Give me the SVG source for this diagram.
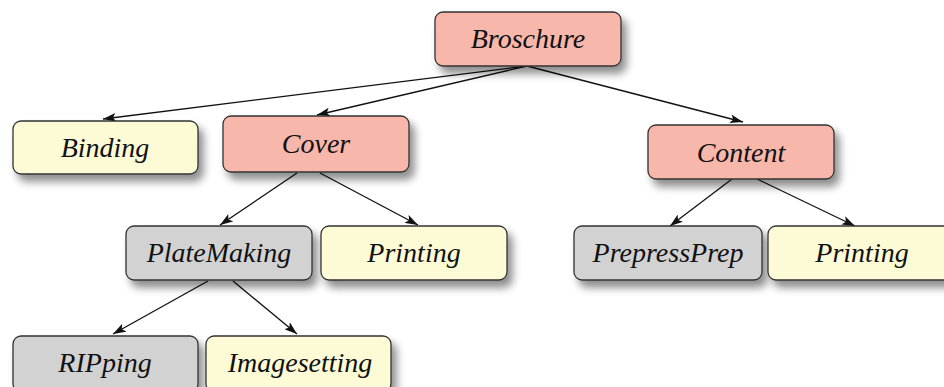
<svg xmlns="http://www.w3.org/2000/svg" width="944" height="387" viewBox="0 0 944 387">
<defs>
<filter id="sh" x="-20%" y="-30%" width="150%" height="180%">
<feGaussianBlur in="SourceAlpha" stdDeviation="4"/>
<feOffset dx="5" dy="7" result="b"/>
<feComponentTransfer><feFuncA type="linear" slope="0.45"/></feComponentTransfer>
<feMerge><feMergeNode/><feMergeNode in="SourceGraphic"/></feMerge>
</filter>
<marker id="ar" viewBox="0 0 13 9" refX="13" refY="4.5" markerWidth="13" markerHeight="9" markerUnits="userSpaceOnUse" orient="auto">
<path d="M0,0 L13,4.5 L0,9 L3,4.5 z" fill="#111"/>
</marker>
</defs>
<style>
.n rect{stroke:#333;stroke-width:1.3}
.pink rect{fill:#f7b7ab}
.yel rect{fill:#fcfbd6}
.gray rect{fill:#d2d2d2}
.e line{stroke:#111;stroke-width:1.3;marker-end:url(#ar)}
.t{font-family:'Liberation Serif','DejaVu Serif',serif;font-style:italic;font-size:28px;fill:#111;text-anchor:middle}
</style>
<rect width="944" height="387" fill="#fff"/>
<g class="e">
<line x1="527" y1="66" x2="103" y2="119"/>
<line x1="527" y1="66" x2="317" y2="115"/>
<line x1="527" y1="66" x2="743" y2="122"/>
<line x1="297" y1="173" x2="220" y2="225"/>
<line x1="320" y1="173" x2="418" y2="225"/>
<line x1="732" y1="179" x2="670" y2="226"/>
<line x1="757" y1="179" x2="855" y2="226"/>
<line x1="208" y1="281" x2="113" y2="334"/>
<line x1="233" y1="281" x2="297" y2="334"/>
</g>
<g id="broschure" class="n pink"><rect x="435" y="12" width="186" height="54" rx="8" filter="url(#sh)"/><text class="t" x="528" y="48">Broschure</text></g>
<g id="binding" class="n yel"><rect x="13" y="121" width="185" height="53" rx="8" filter="url(#sh)"/><text class="t" x="105" y="157">Binding</text></g>
<g id="cover" class="n pink"><rect x="223" y="116" width="186" height="56" rx="8" filter="url(#sh)"/><text class="t" x="316" y="153">Cover</text></g>
<g id="content" class="n pink"><rect x="648" y="125" width="186" height="54" rx="8" filter="url(#sh)"/><text class="t" x="741" y="162">Content</text></g>
<g id="platemaking" class="n gray"><rect x="126" y="226" width="186" height="54" rx="8" filter="url(#sh)"/><text class="t" x="219" y="262">PlateMaking</text></g>
<g id="printing1" class="n yel"><rect x="321" y="226" width="186" height="54" rx="8" filter="url(#sh)"/><text class="t" x="414" y="262">Printing</text></g>
<g id="prepressprep" class="n gray"><rect x="574" y="226" width="188" height="54" rx="8" filter="url(#sh)"/><text class="t" x="668" y="262">PrepressPrep</text></g>
<g id="printing2" class="n yel"><rect x="768" y="226" width="186" height="54" rx="8" filter="url(#sh)"/><text class="t" x="862" y="262">Printing</text></g>
<g id="ripping" class="n gray"><rect x="13" y="336" width="185" height="56" rx="8" filter="url(#sh)"/><text class="t" x="105" y="372">RIPping</text></g>
<g id="imagesetting" class="n yel"><rect x="206" y="336" width="185" height="56" rx="8" filter="url(#sh)"/><text class="t" x="300" y="372">Imagesetting</text></g>
</svg>
